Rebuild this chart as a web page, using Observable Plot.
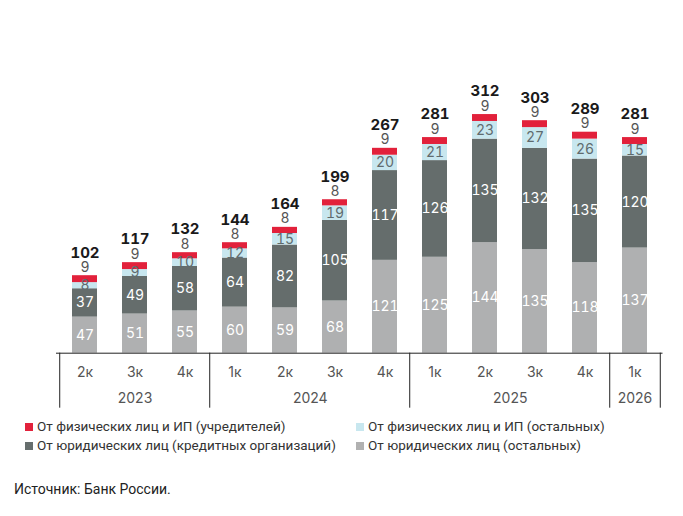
<!DOCTYPE html>
<html><head><meta charset="utf-8">
<script src="https://cdn.jsdelivr.net/npm/d3@7"></script>
<script src="https://cdn.jsdelivr.net/npm/@observablehq/plot@0.6"></script>
<style>
body{margin:0;background:#fff;}
#wrap{position:relative;width:683px;height:516px;font-family:Roboto,"Liberation Sans",sans-serif;}
#chart{position:absolute;left:0;top:0;}
.lg{position:absolute;font-size:13.5px;color:#333;white-space:nowrap;line-height:16px;}
.sw{display:inline-block;width:8px;height:8px;margin-right:4px;vertical-align:0px;}
#src{position:absolute;left:14px;top:481px;font-size:14px;color:#222;}
</style></head>
<body><div id="wrap"><div id="chart"></div>
<div class="lg" style="left:25px;top:418px"><span class="sw" style="background:#e2213b"></span>От физических лиц и ИП (учредителей)</div>
<div class="lg" style="left:356px;top:418px"><span class="sw" style="background:#c8e7ef"></span>От физических лиц и ИП (остальных)</div>
<div class="lg" style="left:25px;top:437px"><span class="sw" style="background:#666e6d"></span>От юридических лиц (кредитных организаций)</div>
<div class="lg" style="left:356px;top:437px"><span class="sw" style="background:#b1b1b1"></span>От юридических лиц (остальных)</div>
<div id="src">Источник: Банк России.</div>
</div>
<script>
const quarters = ["2к","3к","4к","1к","2к","3к","4к","1к","2к","3к","4к","1к"];
const years = [2023,2023,2023,2024,2024,2024,2024,2025,2025,2025,2025,2026];
const legalOther = [47,51,55,60,59,68,121,125,144,135,118,137];
const legalCredit = [37,49,58,64,82,105,117,126,135,132,135,120];
const physOther = [8,9,10,12,15,19,20,21,23,27,26,15];
const physFounders = [9,9,8,8,8,8,9,9,9,9,9,9];
const totals = [102,117,132,144,164,199,267,281,312,303,289,281];
const seriesNames = ["От юридических лиц (остальных)","От юридических лиц (кредитных организаций)","От физических лиц и ИП (остальных)","От физических лиц и ИП (учредителей)"];
const seriesColors = ["#afb0b1","#656d6c","#c8e7ef","#e2213b"];
const seriesValues = [legalOther, legalCredit, physOther, physFounders];

const keys = quarters.map((q,i)=>years[i]+"-"+q);
const rows = [];
const tops = [];
keys.forEach((k,i)=>{
  let cum=0;
  seriesValues.forEach((vals,j)=>{
    rows.push({key:k, series:seriesNames[j], value:vals[i], lo:cum, hi:cum+vals[i], j});
    cum+=vals[i];
  });
  tops.push({key:k, top:cum, founders:physFounders[i], total:totals[i]});
});
const mL=56, mR=20.5, W=683;
const step=(W-mL-mR)/keys.length;
const font = "Inter, 'Open Sans', sans-serif";
const seg = (j, fill) => Plot.text(rows.filter(r=>r.j===j), {x:"key", y:r=>(r.lo+r.hi)/2, text:"value", fill, fontSize:14, fontFamily:font});

const chart = Plot.plot({
  width:W, height:410, marginLeft:mL, marginRight:mR, marginTop:7.4, marginBottom:57.3,
  x:{type:"band", domain:keys, paddingInner:0.5, paddingOuter:0.25, axis:null},
  y:{domain:[0,450], axis:null},
  color:{domain:seriesNames, range:seriesColors},
  marks:[
    Plot.barY(rows,{x:"key", y1:"lo", y2:"hi", fill:"series"}),
    seg(0,"#ffffff"), seg(1,"#ffffff"), seg(2,"#5f6b6e"),
    Plot.text(tops,{x:"key", y:"top", text:"founders", dy:-8.5, fill:"#555", fontSize:14, fontFamily:font}),
    Plot.text(tops,{x:"key", y:"top", text:"total", dy:-23, fill:"#1a1a1a", fontSize:15, fontWeight:"bold", fontFamily:font}),
    Plot.ruleY([0],{stroke:"#222"}),
    Plot.ruleX(["2023-2к","2024-1к","2025-1к","2026-1к"],{x:d=>d, y1:0, y2:0, dx:-step/2, insetBottom:-55, stroke:"#222"}),
    Plot.ruleX(["2026-1к"],{x:d=>d, y1:0, y2:0, dx:step/2, insetBottom:-55, stroke:"#222"}),
    Plot.text(keys,{x:d=>d, y:0, dy:19, text:d=>d.split("-")[1], fill:"#555", fontSize:14, fontFamily:font}),
    Plot.text(["2023-3к"],{x:d=>d, y:0, dy:45, text:d=>d.split("-")[0], fill:"#555", fontSize:14, fontFamily:font}),
    Plot.text(["2024-2к","2025-2к"],{x:d=>d, y:0, dy:45, dx:step/2, text:d=>d.split("-")[0], fill:"#555", fontSize:14, fontFamily:font}),
    Plot.text(["2026-1к"],{x:d=>d, y:0, dy:45, text:d=>d.split("-")[0], fill:"#555", fontSize:14, fontFamily:font})
  ]
});
document.getElementById("chart").appendChild(chart);
</script></body></html>
